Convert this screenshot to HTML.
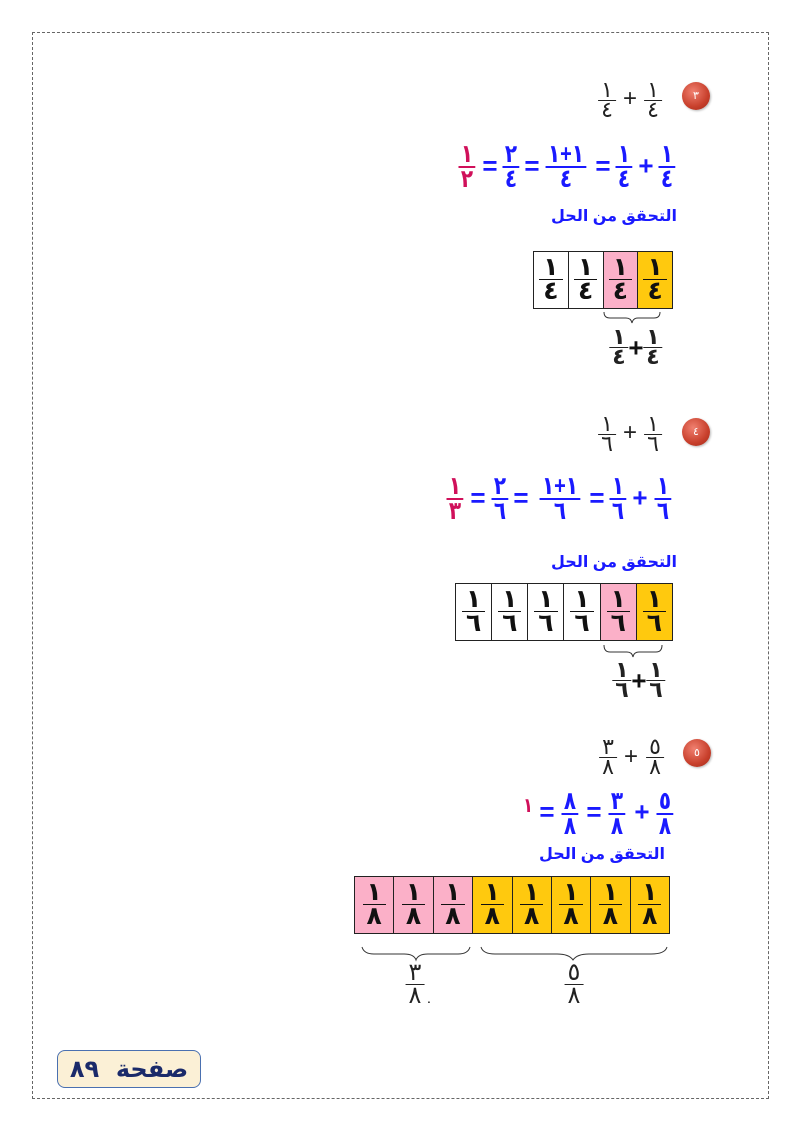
<!DOCTYPE html>
<html><head><meta charset="utf-8"><style>
body{margin:0;background:#fff}
#p{position:relative;width:800px;height:1131px;overflow:hidden;font-family:"Liberation Sans","DejaVu Sans",sans-serif}
.border{position:absolute;left:32px;top:32px;width:735px;height:1065px;border:1px dashed #666}
.fr{position:absolute;transform:translateX(-50%) scaleX(0.8);text-align:center;font-size:25px;font-weight:bold;color:#1a1aff}
.fr i{display:block;font-style:normal;line-height:22px;padding:0 3px}
.fr i:first-child{border-bottom:2px solid currentColor;padding-bottom:1px}
.k{color:#222;font-weight:normal;font-size:22px;transform:translateX(-50%)}
.k i{line-height:18px}
.k i:first-child{border-bottom-width:1px}
.m{color:#d0105a}
.op{position:absolute;transform:translate(-50%,-50%);font-size:26px;font-weight:bold;color:#1a1aff}
.opk{position:absolute;transform:translate(-50%,-50%);font-size:24px;color:#222}
.h{position:absolute;font-size:16px;font-weight:bold;color:#1a1aff;direction:rtl;white-space:nowrap}
.circ{position:absolute;width:28px;height:28px;border-radius:50%;background:radial-gradient(circle at 40% 35%,#f08070,#c8402c 60%,#a02818);box-shadow:1px 1px 2px #bbb;color:#fff;font-size:11px;text-align:center;line-height:28px}
table{position:absolute;border-collapse:collapse}
td{border:1.5px solid #222;padding:0;text-align:center;vertical-align:middle;height:56px}
td .c{display:inline-block;font-size:25px;font-weight:bold;color:#111}
td .c i{display:block;font-style:normal;line-height:23px;padding:0 4px}
td .c i:first-child{border-bottom:1.5px solid #111}
.p{background:#fbb0c8}.y{background:#ffc90e}
</style></head><body><div id="p">
<div class="border"></div>

<!-- section 3 -->
<div class="circ" style="left:682px;top:82px">٣</div>
<div class="fr k" style="left:607px;top:81px"><i>١</i><i>٤</i></div>
<div class="opk" style="left:630px;top:99px">+</div>
<div class="fr k" style="left:653px;top:81px"><i>١</i><i>٤</i></div>

<div class="fr m" style="left:467px;top:143px"><i>١</i><i>٢</i></div>
<div class="op" style="left:490px;top:166px">=</div>
<div class="fr" style="left:511px;top:143px"><i>٢</i><i>٤</i></div>
<div class="op" style="left:532px;top:166px">=</div>
<div class="fr" style="left:566px;top:143px"><i>١+١</i><i>٤</i></div>
<div class="op" style="left:603px;top:166px">=</div>
<div class="fr" style="left:624px;top:143px"><i>١</i><i>٤</i></div>
<div class="op" style="left:646px;top:166px">+</div>
<div class="fr" style="left:667px;top:143px"><i>١</i><i>٤</i></div>

<div class="h" style="right:123px;top:206px">التحقق من الحل</div>
<table style="left:533px;top:251px;width:140px"><tr>
<td><span class="c"><i>١</i><i>٤</i></span></td><td><span class="c"><i>١</i><i>٤</i></span></td><td class="p"><span class="c"><i>١</i><i>٤</i></span></td><td class="y"><span class="c"><i>١</i><i>٤</i></span></td></tr></table>
<svg style="position:absolute;left:0;top:0" width="800" height="1131" fill="none" stroke="#333" stroke-width="1">
<path d="M604 312 q0 6 6 6 h16 q5 0 6 5 q1 -5 6 -5 h16 q6 0 6 -6"/>
<path d="M604 645 q0 7 6 7 h17 q5 0 6 5 q1 -5 6 -5 h17 q6 0 6 -7"/>
<path d="M362 947 q2 7 12 7 h30 q10 0 12 6 q2 -6 12 -6 h30 q10 0 12 -7"/>
<path d="M481 947 q2 7 14 7 h62 q12 0 16 6 q4 -6 16 -6 h62 q14 0 16 -7"/>
</svg>
<div class="fr k" style="left:619px;top:328px;font-weight:bold"><i>١</i><i>٤</i></div>
<div class="op" style="left:636px;top:348px;color:#111">+</div>
<div class="fr k" style="left:653px;top:328px;font-weight:bold"><i>١</i><i>٤</i></div>

<!-- section 4 -->
<div class="circ" style="left:682px;top:418px">٤</div>
<div class="fr k" style="left:607px;top:415px"><i>١</i><i>٦</i></div>
<div class="opk" style="left:630px;top:433px">+</div>
<div class="fr k" style="left:653px;top:415px"><i>١</i><i>٦</i></div>

<div class="fr m" style="left:455px;top:475px"><i>١</i><i>٣</i></div>
<div class="op" style="left:478px;top:498px">=</div>
<div class="fr" style="left:500px;top:475px"><i>٢</i><i>٦</i></div>
<div class="op" style="left:521px;top:498px">=</div>
<div class="fr" style="left:560px;top:475px"><i>١+١</i><i>٦</i></div>
<div class="op" style="left:597px;top:498px">=</div>
<div class="fr" style="left:618px;top:475px"><i>١</i><i>٦</i></div>
<div class="op" style="left:640px;top:498px">+</div>
<div class="fr" style="left:663px;top:475px"><i>١</i><i>٦</i></div>

<div class="h" style="right:123px;top:552px">التحقق من الحل</div>
<table style="left:455px;top:583px;width:218px"><tr>
<td><span class="c"><i>١</i><i>٦</i></span></td><td><span class="c"><i>١</i><i>٦</i></span></td><td><span class="c"><i>١</i><i>٦</i></span></td><td><span class="c"><i>١</i><i>٦</i></span></td><td class="p"><span class="c"><i>١</i><i>٦</i></span></td><td class="y"><span class="c"><i>١</i><i>٦</i></span></td></tr></table>
<div class="fr k" style="left:622px;top:661px;font-weight:bold"><i>١</i><i>٦</i></div>
<div class="op" style="left:639px;top:681px;color:#111">+</div>
<div class="fr k" style="left:656px;top:661px;font-weight:bold"><i>١</i><i>٦</i></div>

<!-- section 5 -->
<div class="circ" style="left:683px;top:739px">٥</div>
<div class="fr k" style="left:608px;top:738px"><i>٣</i><i>٨</i></div>
<div class="opk" style="left:631px;top:757px">+</div>
<div class="fr k" style="left:655px;top:738px"><i>٥</i><i>٨</i></div>

<div class="fr m" style="left:528px;top:795px;font-size:20px"><i style="border:0">١</i></div>
<div class="op" style="left:547px;top:812px">=</div>
<div class="fr" style="left:570px;top:790px"><i>٨</i><i>٨</i></div>
<div class="op" style="left:594px;top:812px">=</div>
<div class="fr" style="left:617px;top:790px"><i>٣</i><i>٨</i></div>
<div class="op" style="left:642px;top:812px">+</div>
<div class="fr" style="left:665px;top:790px"><i>٥</i><i>٨</i></div>

<div class="h" style="right:135px;top:844px">التحقق من الحل</div>
<table style="left:354px;top:876px;width:316px"><tr>
<td class="p"><span class="c"><i>١</i><i>٨</i></span></td><td class="p"><span class="c"><i>١</i><i>٨</i></span></td><td class="p"><span class="c"><i>١</i><i>٨</i></span></td>
<td class="y"><span class="c"><i>١</i><i>٨</i></span></td><td class="y"><span class="c"><i>١</i><i>٨</i></span></td><td class="y"><span class="c"><i>١</i><i>٨</i></span></td><td class="y"><span class="c"><i>١</i><i>٨</i></span></td><td class="y"><span class="c"><i>١</i><i>٨</i></span></td></tr></table>
<div class="fr k" style="left:415px;top:962px;font-size:24px"><i style="line-height:21px">٣</i><i style="line-height:22px">٨</i></div>
<div style="position:absolute;left:427px;top:990px;font-size:14px">.</div>
<div class="fr k" style="left:574px;top:962px;font-size:24px"><i style="line-height:21px">٥</i><i style="line-height:22px">٨</i></div>

<!-- footer -->
<div style="position:absolute;left:57px;top:1050px;width:142px;height:36px;border:1.5px solid #4a70b0;border-radius:8px;background:#fbf0d6;color:#1a2a6a;font-size:24px;font-weight:bold;line-height:36px;text-align:center;direction:rtl;font-family:'DejaVu Sans','Liberation Sans',sans-serif">صفحة&nbsp;&nbsp;٨٩</div>
</div></body></html>
